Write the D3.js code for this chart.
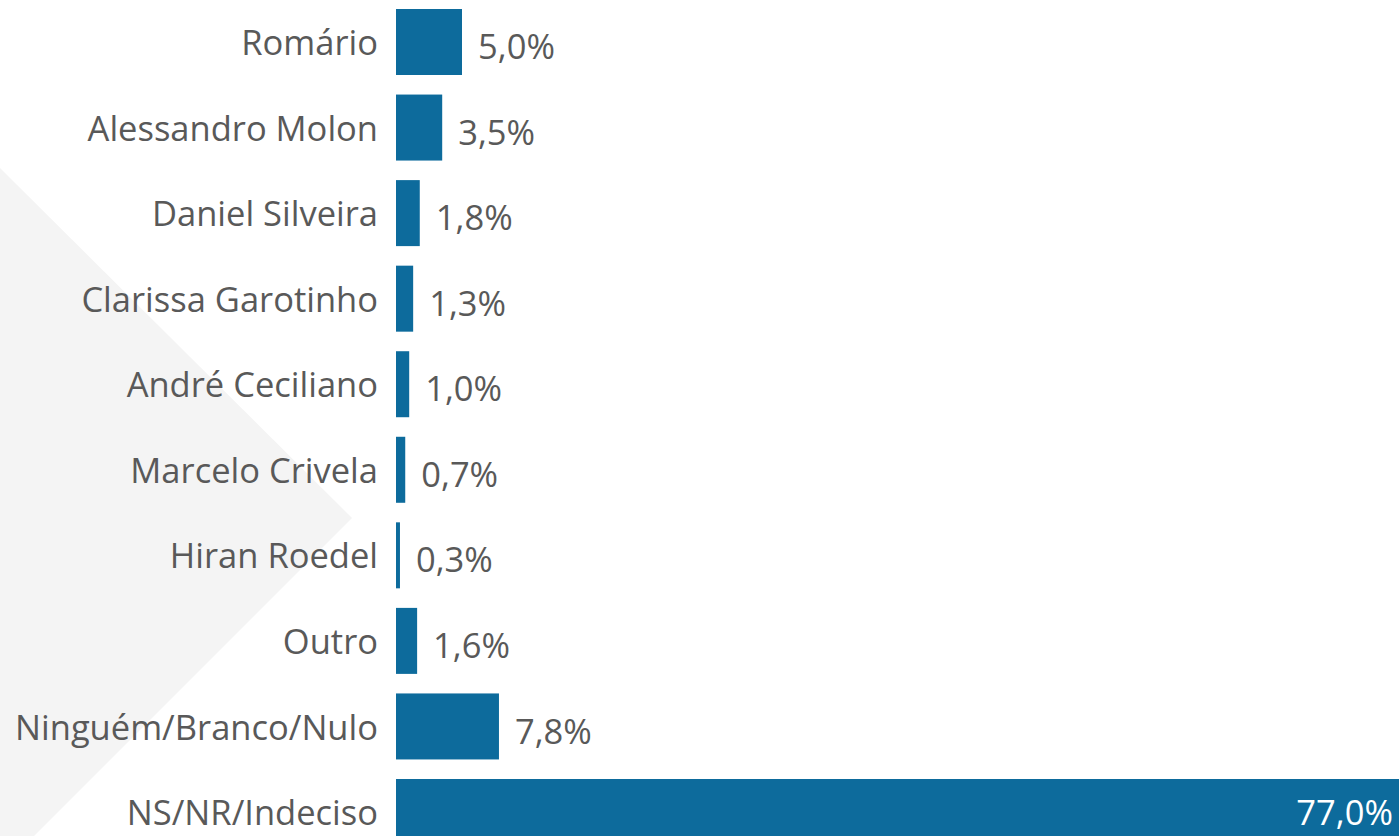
<!DOCTYPE html>
<html>
<head>
<meta charset="utf-8">
<script src="https://cdn.jsdelivr.net/npm/d3@7"></script>
<style>
  body { margin: 0; background: #fff; overflow: hidden; }
  text { font-family: "Open Sans", sans-serif; }
</style>
</head>
<body>
<div id="svg_div"><svg width="1399" height="836"></svg></div>
<script>
// Chart data
var candidates = ["Romário", "Alessandro Molon", "Daniel Silveira", "Clarissa Garotinho",
    "André Ceciliano", "Marcelo Crivela", "Hiran Roedel", "Outro",
    "Ninguém/Branco/Nulo", "NS/NR/Indeciso"];
var values = [5.0, 3.5, 1.8, 1.3, 1.0, 0.7, 0.3, 1.6, 7.8, 77.0];

var svg = d3.select("#svg_div").select("svg");
var svgWidth = +svg.attr("width");
var svgHeight = +svg.attr("height");

// Background chevron
svg.append("polygon")
    .attr("points", "0,168 352,518 34,836 0,836")
    .attr("fill", "#f4f4f4");

var margin = {top: 0, left: 396};
var xScale = d3.scaleLinear()
    .domain([0, 1])
    .range([0, 13.2]);

var yScale = d3.scaleBand()
    .domain(candidates)
    .range([9, 845])
    .paddingInner(0.2286)
    .paddingOuter(0);

var g = svg.append("g")
    .attr("transform", "translate(" + [margin.left, margin.top] + ")");

// Bars
g.selectAll(".bar")
    .data(candidates)
    .enter()
    .append("rect")
    .attr("class", "bar")
    .attr("x", 0)
    .attr("y", function(d) { return yScale(d); })
    .attr("width", function(d, i) { return xScale(values[i]); })
    .attr("height", yScale.bandwidth())
    .attr("fill", "#0d6b9c");

// Category labels
g.selectAll(".cat")
    .data(candidates)
    .enter()
    .append("text")
    .attr("class", "cat")
    .attr("x", -18)
    .attr("y", function(d) { return yScale(d) + yScale.bandwidth() / 2 + 1; })
    .attr("dy", "0.35em")
    .attr("text-anchor", "end")
    .attr("fill", "#595959")
    .style("font-size", "34.5px")
    .text(function(d) { return d; });

// Value labels (big bar gets its label inside, in white)
var fmt = function(v) { return d3.format(".1f")(v).replace(".", ",") + "%"; };
g.selectAll(".val")
    .data(candidates)
    .enter()
    .append("text")
    .attr("class", "val")
    .attr("x", function(d, i) {
        return values[i] > 50 ? svgWidth - margin.left - 6 : xScale(values[i]) + 16;
    })
    .attr("y", function(d, i) {
        return yScale(d) + yScale.bandwidth() / 2 + (values[i] > 50 ? 1 : 5);
    })
    .attr("dy", "0.35em")
    .attr("text-anchor", function(d, i) { return values[i] > 50 ? "end" : "start"; })
    .attr("fill", function(d, i) { return values[i] > 50 ? "#ffffff" : "#595959"; })
    .style("font-size", "34.5px")
    .text(function(d, i) { return fmt(values[i]); });
</script>
</body>
</html>
